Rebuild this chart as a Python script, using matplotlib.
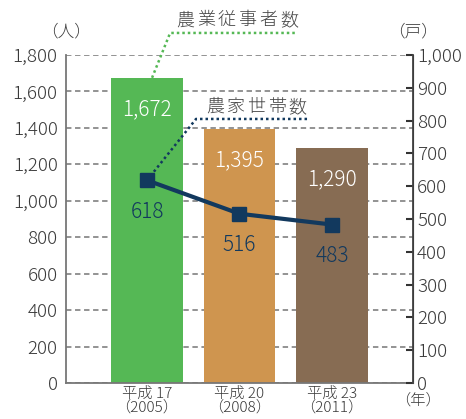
import matplotlib.pyplot as plt
from matplotlib.ticker import FuncFormatter, MultipleLocator

plt.rcParams['font.family'] = ['Noto Sans CJK JP', 'DejaVu Sans']
plt.rcParams['font.weight'] = 'light'

# データ
years = ['平成 17\n（2005）', '平成 20\n（2008）', '平成 23\n（2011）']
workers = [1672, 1395, 1290]          # 農業従事者数 (人)
households = [618, 516, 483]          # 農家世帯数 (戸)
bar_colors = ['#55b855', '#cf954f', '#876c53']
line_color = '#12395e'
text_color = '#3a3a3a'

fig = plt.figure(figsize=(4.66, 4.19), dpi=100)
ax = fig.add_axes((66 / 466, 36 / 419, 347 / 466, 328 / 419))
ax2 = ax.twinx()

x = list(range(len(years)))
ax.bar(x, workers, width=0.77, color=bar_colors, zorder=2)
for xi, v in zip(x, workers):
    ax.text(xi, v - 110, f'{v:,}', ha='center', va='top', color='white', fontsize=15)

ax.set_xlim(-0.876, 2.876)
ax.set_ylim(0, 1800)
ax.yaxis.set_major_locator(MultipleLocator(200))
ax.yaxis.set_major_formatter(FuncFormatter(lambda v, p: f'{int(v):,}'))
ax.grid(axis='y', color='#8a8a8a', linestyle=(0, (3, 2)), linewidth=1.3, zorder=0)
ax.set_axisbelow(True)
ax.tick_params(axis='y', length=0, labelsize=13.5, labelcolor=text_color, pad=6)
ax.set_xticks(x)
ax.set_xticklabels(years, fontsize=11, color=text_color, linespacing=0.9)
ax.tick_params(axis='x', length=0, pad=3)
ax.spines['top'].set_visible(False)
ax.spines['left'].set_color('#777777')
ax.spines['bottom'].set_color('#777777')
ax.spines['left'].set_linewidth(1.3)
ax.spines['bottom'].set_linewidth(1.3)

# 世帯数の折れ線
ax2.plot(x, households, color=line_color, linewidth=3, marker='s', markersize=10, zorder=3)
for xi, v in zip(x, households):
    ax2.text(xi, v - 62, str(v), ha='center', va='top', color=line_color, fontsize=15)
ax2.set_ylim(0, 1000)
ax2.yaxis.set_major_locator(MultipleLocator(100))
ax2.yaxis.set_major_formatter(FuncFormatter(lambda v, p: f'{int(v):,}'))
ax2.tick_params(axis='y', direction='in', length=5, width=1.5, color='#333333',
                labelsize=13.5, labelcolor=text_color, pad=3)
ax2.spines['top'].set_visible(False)
ax2.spines['left'].set_visible(False)
ax2.spines['bottom'].set_visible(False)
ax2.spines['right'].set_color('#444444')
ax2.spines['right'].set_linewidth(1.3)

# 単位
ax.text(0, 1.045, '（人）', transform=ax.transAxes, ha='center', va='bottom',
        fontsize=12, color=text_color)
ax.text(1.0, 1.045, '（戸）', transform=ax.transAxes, ha='center', va='bottom',
        fontsize=12, color=text_color)
ax.text(1.015, -0.03, '（年）', transform=ax.transAxes, ha='center', va='top',
        fontsize=11, color=text_color)


def spaced_label(a, s, x0, x1, y, color):
    step = (x1 - x0) / len(s)
    for i, ch in enumerate(s):
        a.text(x0 + step * (i + 0.5), y, ch, ha='center', va='bottom',
               fontsize=13, color=color, clip_on=False)


# 吹き出し: 農業従事者数
ax2.plot([0.01, 0.25, 1.61], [1619 / 1.8, 1921 / 1.8, 1921 / 1.8], color='#55b855',
         linestyle=(0, (1, 1.2)), linewidth=1.8, clip_on=False, zorder=4)
spaced_label(ax2, '農業従事者数', 0.30, 1.65, 1940 / 1.8, '#444444')

# 吹き出し: 農家世帯数
ax2.plot([0.0, 0.53, 1.76], [households[0], 1449 / 1.8, 1449 / 1.8], color=line_color,
         linestyle=(0, (1, 1.2)), linewidth=1.8, zorder=4)
spaced_label(ax2, '農家世帯数', 0.62, 1.74, 1465 / 1.8, '#444444')

fig.savefig('out.png', dpi=100)
